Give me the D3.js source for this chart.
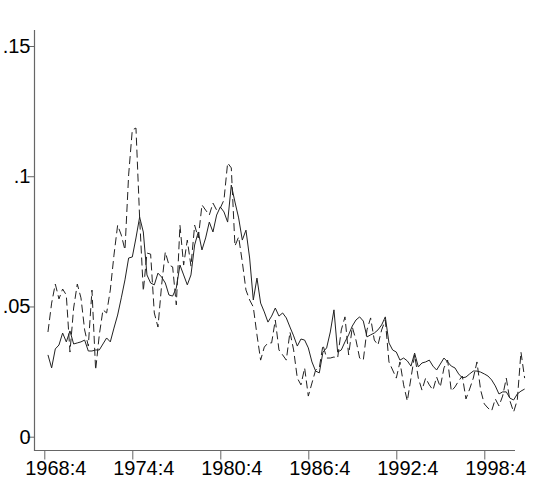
<!DOCTYPE html>
<html>
<head>
<meta charset="utf-8">
<script src="https://cdn.jsdelivr.net/npm/d3@7/dist/d3.min.js"></script>
<style>
  body { margin: 0; background: #fff; }
  text { font-family: "Liberation Sans", Arial, sans-serif; }
</style>
</head>
<body>
<svg id="chart" width="546" height="493"></svg>
<script>
// tick labels (quarters) and y ticks
const xTickLabels = ["1968:4", "1974:4", "1980:4", "1986:4", "1992:4", "1998:4"];
const yTicks = [0, 0.05, 0.1, 0.15];
const yTickLabels = ["0", ".05", ".1", ".15"];

// first observation of both series
const firstQuarter = "1969:1";

// solid line, one value per quarter
const solidSeries = [
  0.0314, 0.0264, 0.0337, 0.0352, 0.0398, 0.0364, 0.0406, 0.0356, 0.0360, 0.0364,
  0.0371, 0.0329, 0.0329, 0.0333, 0.0333, 0.0356, 0.0379, 0.0364, 0.0417, 0.0467,
  0.0533, 0.0602, 0.0686, 0.0690, 0.0763, 0.0843, 0.0786, 0.0621, 0.0590, 0.0583,
  0.0628, 0.0613, 0.0590, 0.0544, 0.0540, 0.0571, 0.0659, 0.0621, 0.0583, 0.0621,
  0.0736, 0.0786, 0.0717, 0.0763, 0.0824, 0.0786, 0.0851, 0.0882, 0.0863, 0.0824,
  0.0966, 0.0901, 0.0840, 0.0755, 0.0793, 0.0686, 0.0525, 0.0609, 0.0513, 0.0479,
  0.0440, 0.0463, 0.0494, 0.0463, 0.0475, 0.0456, 0.0421, 0.0387, 0.0348, 0.0375,
  0.0371, 0.0341, 0.0287, 0.0252, 0.0245, 0.0325, 0.0341, 0.0402, 0.0487, 0.0325,
  0.0333, 0.0364, 0.0391, 0.0425, 0.0448, 0.0460, 0.0444, 0.0383, 0.0391, 0.0398,
  0.0410, 0.0429, 0.0460, 0.0360, 0.0333, 0.0325, 0.0294, 0.0302, 0.0291, 0.0271,
  0.0321, 0.0268, 0.0283, 0.0287, 0.0294, 0.0271, 0.0256, 0.0279, 0.0302, 0.0287,
  0.0271, 0.0264, 0.0241, 0.0226, 0.0229, 0.0241, 0.0252, 0.0252, 0.0248, 0.0241,
  0.0233, 0.0218, 0.0195, 0.0164, 0.0172, 0.0172, 0.0148, 0.0141, 0.0164, 0.0175,
  0.0183
];

// dashed line, one value per quarter
const dashedSeries = [
  0.0402, 0.0513, 0.0586, 0.0529, 0.0567, 0.0544, 0.0325, 0.0494, 0.0586, 0.0533,
  0.0410, 0.0348, 0.0563, 0.0256, 0.0391, 0.0487, 0.0475, 0.0563, 0.0697, 0.0812,
  0.0774, 0.0717, 0.1005, 0.1178, 0.1185, 0.0840, 0.0559, 0.0705, 0.0701, 0.0475,
  0.0421, 0.0583, 0.0709, 0.0659, 0.0652, 0.0506, 0.0812, 0.0659, 0.0755, 0.0655,
  0.0812, 0.0763, 0.0890, 0.0870, 0.0851, 0.0897, 0.0870, 0.0878, 0.0909, 0.1051,
  0.1032, 0.0732, 0.0767, 0.0671, 0.0563, 0.0525, 0.0498, 0.0391, 0.0294, 0.0344,
  0.0360, 0.0360, 0.0448, 0.0333, 0.0314, 0.0294, 0.0402, 0.0333, 0.0225, 0.0199,
  0.0264, 0.0156, 0.0206, 0.0256, 0.0264, 0.0352, 0.0302, 0.0302, 0.0306, 0.0302,
  0.0410, 0.0460, 0.0314, 0.0421, 0.0371, 0.0302, 0.0294, 0.0410, 0.0456, 0.0371,
  0.0352, 0.0410, 0.0448, 0.0287, 0.0256, 0.0225, 0.0287, 0.0199, 0.0137, 0.0225,
  0.0314, 0.0225, 0.0179, 0.0225, 0.0199, 0.0179, 0.0229, 0.0191, 0.0264, 0.0294,
  0.0175, 0.0191, 0.0214, 0.0233, 0.0145, 0.0183, 0.0225, 0.0287, 0.0179, 0.0126,
  0.0110, 0.0099, 0.0145, 0.0118, 0.0156, 0.0225, 0.0137, 0.0095, 0.0141, 0.0325,
  0.0225
];

const axisColor = "#666";
const lineColor = "#222";

// "1968:4" -> 1968.75
function quarterToYear(s) {
    let parts = s.split(":");
    return +parts[0] + (+parts[1] - 1) / 4;
}

const svg = d3.select("#chart");

const x = d3.scaleLinear()
    .domain([quarterToYear(xTickLabels[0]), quarterToYear(xTickLabels[xTickLabels.length - 1])])
    .range([44.3, 484.3]);

const y = d3.scaleLinear()
    .domain([0, 0.15])
    .range([436.7, 46]);

const start = quarterToYear(firstQuarter);
const toPoints = arr => arr.map((v, i) => ({ t: start + i / 4, v: v }));

const line = d3.line()
    .x(d => x(d.t))
    .y(d => y(d.v));

// y axis
let yAxis = svg.append("g")
    .attr("transform", "translate(34.5,0)")
    .call(d3.axisLeft(y)
        .tickValues(yTicks)
        .tickFormat((d, i) => yTickLabels[i])
        .tickSize(7)
        .tickPadding(-3));
yAxis.select(".domain").remove();
yAxis.selectAll("line").attr("stroke", axisColor);
yAxis.selectAll("text")
    .style("font-size", "20px")
    .attr("fill", "#000");

// x axis
let xAxis = svg.append("g")
    .attr("transform", "translate(0,450.5)")
    .call(d3.axisBottom(x)
        .tickValues(xTickLabels.map(quarterToYear))
        .tickFormat((d, i) => xTickLabels[i])
        .tickSize(9)
        .tickPadding(1));
xAxis.select(".domain").remove();
xAxis.selectAll("line").attr("stroke", axisColor);
xAxis.selectAll("text")
    .attr("dx", 11)
    .style("font-size", "20px")
    .attr("fill", "#000");

// axis lines
svg.append("path")
    .attr("d", "M34.5,30V450.5H515")
    .attr("fill", "none")
    .attr("stroke", axisColor)
    .attr("stroke-width", 1.2);

svg.append("path")
    .datum(toPoints(solidSeries))
    .attr("d", line)
    .attr("fill", "none")
    .attr("stroke", lineColor)
    .attr("stroke-width", 1);

svg.append("path")
    .datum(toPoints(dashedSeries))
    .attr("d", line)
    .attr("fill", "none")
    .attr("stroke", lineColor)
    .attr("stroke-width", 1)
    .attr("stroke-dasharray", "8,4");
</script>
</body>
</html>
